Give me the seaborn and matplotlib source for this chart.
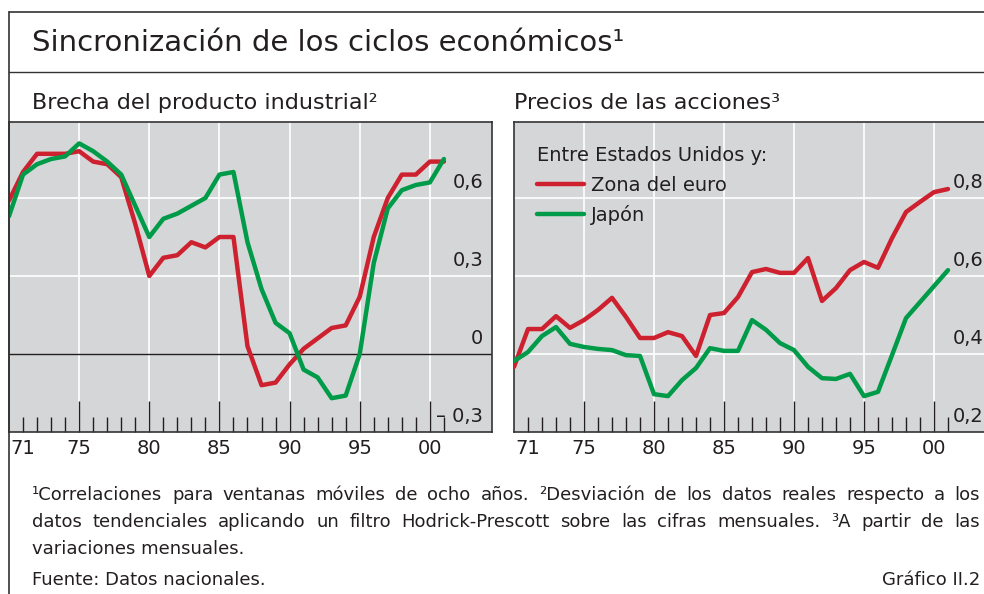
import numpy as np, pandas as pd
import matplotlib
matplotlib.use('Agg')
import matplotlib.pyplot as plt
import seaborn as sns
from matplotlib.lines import Line2D

# years shown on both panels
years = list(range(1970, 2002))

# Brecha del producto industrial (correlaciones)
gap_euro = [0.59, 0.70, 0.77, 0.77, 0.77, 0.78, 0.74, 0.73, 0.68, 0.50,
            0.30, 0.37, 0.38, 0.43, 0.41, 0.45, 0.45, 0.03, -0.12, -0.11,
            -0.04, 0.02, 0.06, 0.10, 0.11, 0.22, 0.45, 0.60, 0.69, 0.69,
            0.74, 0.74]
gap_japon = [0.53, 0.69, 0.73, 0.75, 0.76, 0.81, 0.78, 0.74, 0.69, 0.57,
             0.45, 0.52, 0.54, 0.57, 0.60, 0.69, 0.70, 0.43, 0.25, 0.12,
             0.08, -0.06, -0.09, -0.17, -0.16, 0.00, 0.35, 0.56, 0.63, 0.65,
             0.66, 0.75]

# Precios de las acciones (correlaciones)
acc_euro = [0.367, 0.464, 0.464, 0.497, 0.467, 0.487, 0.513, 0.544, 0.495, 0.441,
            0.441, 0.456, 0.446, 0.395, 0.500, 0.505, 0.546, 0.610, 0.618, 0.608,
            0.608, 0.646, 0.536, 0.569, 0.615, 0.636, 0.621, 0.697, 0.764, 0.790,
            0.815, 0.823]
acc_japon = [0.382, 0.405, 0.446, 0.469, 0.426, 0.418, 0.413, 0.410, 0.397, 0.395,
             0.297, 0.292, 0.333, 0.364, 0.415, 0.408, 0.408, 0.487, 0.462, 0.428,
             0.410, 0.367, 0.338, 0.336, 0.349, 0.292, 0.303, 0.397, 0.492, 0.533,
             0.574, 0.615]

series_names = ['Zona del euro', 'Japón']
xtick_pos = [1971, 1975, 1980, 1985, 1990, 1995, 2000]
xtick_lab = ['71', '75', '80', '85', '90', '95', '00']
left_yticks = [0.6, 0.3, 0.0, -0.3]
left_ylab = ['0,6', '0,3', '0', '– 0,3']
right_yticks = [0.8, 0.6, 0.4, 0.2]
right_ylab = ['0,8', '0,6', '0,4', '0,2']

RED = '#CD212F'
GREEN = '#009B48'
BG = '#D5D6D8'
INK = '#231F20'

sns.set_theme(style='white')
plt.rcParams['font.family'] = ['DejaVu Sans']
plt.rcParams['text.color'] = INK

W, H = 984, 594
fig = plt.figure(figsize=(W/100, H/100), dpi=100)

def px_axes(x0, y0, x1, y1):
    return fig.add_axes([x0/W, 1-y1/H, (x1-x0)/W, (y1-y0)/H])

ax1 = px_axes(9, 122, 492, 432)
ax2 = px_axes(514, 122, 996, 432)

def long_df(a, b):
    return pd.DataFrame({'year': years*2, 'value': a+b,
                         'serie': [series_names[0]]*len(years) + [series_names[1]]*len(years)})

pal = {series_names[0]: RED, series_names[1]: GREEN}

panels = [(ax1, gap_euro, gap_japon, (-0.3, -0.3+310/260), left_yticks, left_ylab, -9),
          (ax2, acc_euro, acc_japon, (0.2, 0.2+310/390), right_yticks, right_ylab, -13)]
for ax, a, b, ylim, yt, yl, lab_dx in panels:
    ax.set_facecolor(BG)
    ax.set_xlim(1970, 1970+482/14)
    ax.set_ylim(*ylim)
    # grid lines
    for x in xtick_pos[1:]:
        ax.axvline(x, color='white', lw=1.2, zorder=0.5)
    for y in yt:
        if y > ylim[0] + 1e-9 and y != 0:
            ax.axhline(y, color='white', lw=1.2, zorder=0.5)
    sns.lineplot(data=long_df(a, b), x='year', y='value', hue='serie', palette=pal,
                 hue_order=series_names, ax=ax, lw=3.2, legend=False, zorder=3)
    ax.set_xlabel('')
    ax.set_ylabel('')
    ax.set_yticks([])
    ax.set_xticks(xtick_pos)
    ax.set_xticklabels(xtick_lab, fontsize=14, color=INK)
    ax.set_xticks([y for y in range(1971, 2002) if y not in xtick_pos], minor=True)
    ax.tick_params(axis='x', which='major', direction='in', length=22, width=1.0,
                   color=INK, pad=5, bottom=True)
    ax.tick_params(axis='x', which='minor', direction='in', length=11, width=1.0,
                   color=INK, bottom=True)
    ax.xaxis.get_major_ticks()[0].tick1line.set_markersize(11)
    for sp in ax.spines.values():
        sp.set_color('#333333')
        sp.set_linewidth(1.2)
    for y, lab in zip(yt, yl):
        ax.annotate(lab, xy=(1, y), xycoords=('axes fraction', 'data'),
                    xytext=(lab_dx, 6), textcoords='offset pixels',
                    ha='right', va='bottom', fontsize=14, color=INK)

ax1.axhline(0, color=INK, lw=1.0, zorder=1)

# legend in right panel
handles = [Line2D([], [], color=RED, lw=3.2), Line2D([], [], color=GREEN, lw=3.2)]
leg = ax2.legend(handles, series_names, title='Entre Estados Unidos y:', loc='upper left',
                 bbox_to_anchor=(23/482, 1-24/310), frameon=False, fontsize=14,
                 title_fontsize=14, handlelength=2.4, handletextpad=0.36,
                 labelspacing=0.52, borderaxespad=0, borderpad=0)
leg._legend_box.align = 'left'
leg._legend_box.sep = 8

# titles
fig.text(32/W, 1-43/H, 'Sincronización de los ciclos económicos¹', fontsize=21,
         va='center', ha='left')
fig.text(32/W, 1-103/H, 'Brecha del producto industrial²', fontsize=16, va='center')
fig.text(514/W, 1-103/H, 'Precios de las acciones³', fontsize=16, va='center')

# frame
fig.add_artist(Line2D([8.5/W, 8.5/W], [0, 1-12/H], color='#333333', lw=1.2))
fig.add_artist(Line2D([8.5/W, 1], [1-12/H, 1-12/H], color='#333333', lw=1.2))
fig.add_artist(Line2D([8.5/W, 1], [1-72/H, 1-72/H], color='#333333', lw=1.0))

# footnotes, justified
renderer = fig.canvas.get_renderer()
def justified(line, ycen, x0=32, x1=980, fs=13):
    words = line.split()
    texts = [fig.text(0, 1-ycen/H, w, fontsize=fs, va='center', ha='left') for w in words]
    widths = [t.get_window_extent(renderer).width for t in texts]
    gap = (x1 - x0 - sum(widths)) / (len(words) - 1)
    x = x0
    for t, w in zip(texts, widths):
        t.set_x(x/W)
        x += w + gap

justified('¹Correlaciones para ventanas móviles de ocho años. ²Desviación de los datos reales respecto a los', 495)
justified('datos tendenciales aplicando un filtro Hodrick-Prescott sobre las cifras mensuales. ³A partir de las', 522)
fig.text(32/W, 1-549/H, 'variaciones mensuales.', fontsize=13, va='center')
fig.text(32/W, 1-580/H, 'Fuente: Datos nacionales.', fontsize=13, va='center')
fig.text(980/W, 1-580/H, 'Gráfico II.2', fontsize=13, va='center', ha='right')

fig.savefig('out.png', dpi=100)
